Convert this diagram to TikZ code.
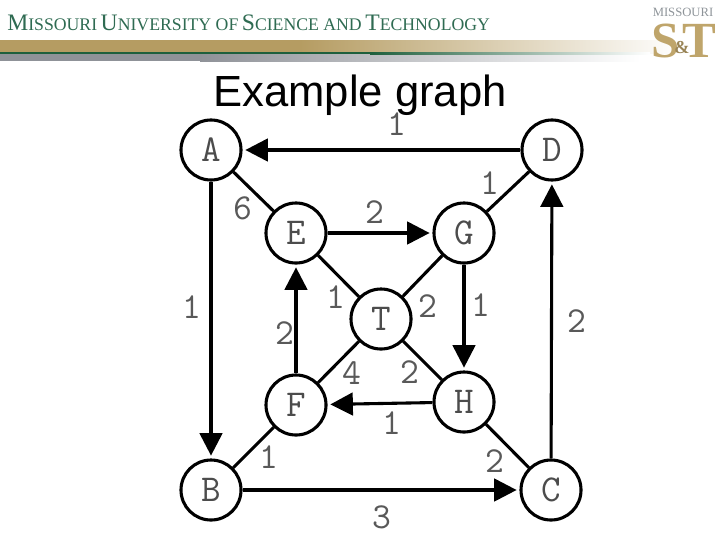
\documentclass[tikz,border=0pt]{standalone}
\usepackage{fontspec}
\setmainfont{Liberation Serif}
\setsansfont{Liberation Sans}
\usetikzlibrary{arrows.meta}
\definecolor{bandtan}{HTML}{B59C62}
\definecolor{bandgreen}{HTML}{1E5F3C}
\definecolor{bandgray}{HTML}{8F9298}
\definecolor{hdrgreen}{HTML}{2F6B52}
\definecolor{logotan}{HTML}{BFA56B}
\definecolor{logogray}{HTML}{8E9499}
\newcommand{\hdrword}[2]{{\fontsize{16.8}{17}\selectfont #1}{\fontsize{12.6}{13}\selectfont #2}}

\begin{document}
\begin{tikzpicture}[
  x=0.025cm,y=-0.025cm,
  vertex/.style={circle,draw=black,fill=white,line width=2.2pt,minimum size=1.5cm,inner sep=0pt,text=black!70,font=\ttfamily\fontsize{27}{27}\selectfont},
  arr/.style={-{Triangle[length=16pt,width=16pt]},line width=2.2pt,shorten >=2pt},
  edg/.style={line width=2.2pt},
  wgt/.style={inner sep=0pt,font=\ttfamily\fontsize{26}{26}\selectfont,text=black!65},
  ttl/.style={inner sep=0pt,font=\sffamily\fontsize{31}{31}\selectfont},
  hdr/.style={inner sep=0pt,anchor=west,text=hdrgreen}
]
\useasboundingbox (0,0) rectangle (720,540);
% ================= header band =================
\fill[bandgray] (0,54) rectangle (201,61);
\shade[left color=bandgray,right color=white] (200,54) rectangle (640,61);
\fill[bandtan] (0,40) rectangle (301,53);
\shade[left color=bandtan,right color=white] (300,40) rectangle (680,53);
\fill[bandgreen] (0,52) rectangle (371,54);
\shade[left color=bandgreen,right color=white] (370,52) rectangle (650,54);
\node[hdr] (school) at (7,23) {\hdrword{M}{ISSOURI} \hdrword{U}{NIVERSITY OF} \hdrword{S}{CIENCE AND} \hdrword{T}{ECHNOLOGY}};
% ================= logo =================
\node[inner sep=0pt,text=logogray,font=\fontsize{9}{9}\selectfont] (logotop) at (683,12) {MISSOURI};
\node[inner sep=0pt,text=logotan,font=\bfseries\fontsize{36}{36}\selectfont] (logoS) at (666,41) {S};
\node[inner sep=0pt,text=logotan,font=\bfseries\fontsize{36}{36}\selectfont] (logoT) at (699,41) {T};
\node[inner sep=0pt,text=logotan!80!black,font=\bfseries\fontsize{13}{13}\selectfont] (logoAmp) at (682,48) {\&};
% ================= title =================
\node[ttl] (title) at (360,95) {Example graph};
% ================= vertices =================
\node[vertex] (A) at (211,150) {A};
\node[vertex] (D) at (552,150) {D};
\node[vertex] (E) at (296,233) {E};
\node[vertex] (G) at (464,233) {G};
\node[vertex] (T) at (381,319) {T};
\node[vertex] (F) at (296,405) {F};
\node[vertex] (H) at (464,402) {H};
\node[vertex] (B) at (211,490) {B};
\node[vertex] (C) at (551,490) {C};
% ================= edges =================
\draw[arr] (D) -- (A);
\draw[arr] (A) -- (B);
\draw[arr] (E) -- (G);
\draw[arr] (G) -- (H);
\draw[arr] (F) -- (E);
\draw[arr] (H) -- (F);
\draw[arr] (B) -- (C);
\draw[arr] (C) -- (D);
\draw[edg] (A) -- (E);
\draw[edg] (E) -- (T);
\draw[edg] (G) -- (D);
\draw[edg] (G) -- (T);
\draw[edg] (F) -- (T);
\draw[edg] (T) -- (H);
\draw[edg] (F) -- (B);
\draw[edg] (H) -- (C);
% ================= weights =================
\node[wgt] (wDA) at (397,124) {1};
\node[wgt] (wGD) at (490,183) {1};
\node[wgt] (wAE) at (243,208) {6};
\node[wgt] (wEG) at (375,212) {2};
\node[wgt] (wAB) at (192,307) {1};
\node[wgt] (wET) at (336,297) {1};
\node[wgt] (wFE) at (285,333) {2};
\node[wgt] (wGT) at (428,306) {2};
\node[wgt] (wGH) at (481,305) {1};
\node[wgt] (wCD) at (577,321) {2};
\node[wgt] (wFT) at (352,373) {4};
\node[wgt] (wTH) at (410,372) {2};
\node[wgt] (wHF) at (392,423) {1};
\node[wgt] (wFB) at (269,457) {1};
\node[wgt] (wHC) at (495,461) {2};
\node[wgt] (wBC) at (382,517) {3};
\end{tikzpicture}
\end{document}
